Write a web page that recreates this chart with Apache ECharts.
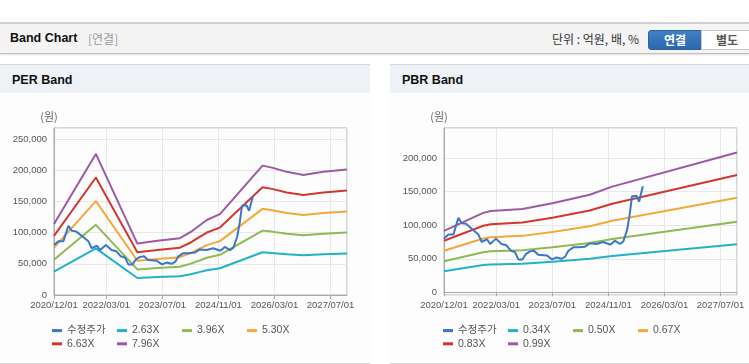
<!DOCTYPE html>
<html>
<head>
<meta charset="utf-8">
<script src="https://cdn.jsdelivr.net/npm/echarts@6/dist/echarts.min.js"></script>
<style>
  html, body { margin:0; padding:0; background:#fff; }
  body { width:749px; height:364px; position:relative; overflow:hidden; font-family:"Liberation Sans", Arial, "Noto Sans CJK KR", sans-serif; }
  #topbar { position:absolute; left:0; top:22px; width:749px; height:29px; background:#f4f4f4;
            border-top:2px solid #cfcfcf; border-bottom:1px solid #bdbdbd; box-shadow:0 1px 2px rgba(0,0,0,0.12); }
  #title { position:absolute; left:10px; top:7px; font-size:12.5px; font-weight:bold; color:#111; }
  #sub { position:absolute; left:88px; top:7px; font-size:12px; color:#999; font-family:"Noto Sans CJK KR", sans-serif; line-height:15px; }
  #unit { position:absolute; left:552px; top:7px; font-size:12px; color:#333; font-family:"Noto Sans CJK KR", sans-serif; line-height:15px; }
  .btn { position:absolute; top:6px; height:18px; line-height:18px; text-align:center; font-size:12px; font-weight:bold; font-family:"Noto Sans CJK KR", sans-serif; }
  #b1 { left:648px; width:52px; background:linear-gradient(#3f80c8,#2b67ad); color:#fff; border-radius:3px 0 0 3px; border:1px solid #2a62a4; }
  #b2 { left:701px; width:50px; background:#fff; color:#555; border:1px solid #c8c8c8; }
  .panel { position:absolute; top:64px; height:298px; background:#fdfdfd; border-top:1px solid #d7d7d7; border-bottom:1px solid #d7d7d7; }
  .ph { height:28px; background:#eef2f7; font-size:12.5px; font-weight:bold; color:#111; line-height:31px; padding-left:12px; }
  #chart { position:absolute; left:0; top:0; width:749px; height:364px; }
</style>
</head>
<body>
<div id="topbar">
  <div id="title">Band Chart</div>
  <div id="sub">[연결]</div>
  <div id="unit">단위 : 억원, 배, %</div>
  <div class="btn" id="b1">연결</div>
  <div class="btn" id="b2">별도</div>
</div>
<div class="panel" style="left:0;width:370px;"><div class="ph">PER Band</div></div>
<div class="panel" style="left:390px;width:359px;"><div class="ph">PBR Band</div></div>
<div id="chart"></div>
<script>
// x values are month offsets (15 months between tick labels)
const xTickLabels = ['2020/12/01','2022/03/01','2023/07/01','2024/11/01','2026/03/01','2027/07/01'];

const priceMonths = [1.0, 2.2, 3.5, 4.85, 5.75, 6.9, 8.8, 10.2, 11.1, 12.5, 13.35, 14.9, 16.4, 17.7, 18.9, 20.0, 20.9, 22.0, 22.9, 24.0, 25.1, 26.2, 28.5, 29.9, 31.1, 32.5, 33.4, 34.3, 35.6, 37.0, 38.7, 40.0, 41.8, 43.6, 45.5, 46.7, 48.1, 49.0, 50.0, 50.7, 51.3, 52.5, 53.2, 54.2];
const priceValues = [80000, 86000, 86000, 111000, 103000, 102000, 93000, 86000, 75000, 79000, 72000, 80000, 72000, 70000, 62000, 60000, 49000, 49000, 57000, 61000, 62000, 56000, 55000, 49000, 52000, 50000, 53000, 62000, 67000, 67000, 68000, 73000, 72000, 75000, 71000, 77000, 72000, 76000, 93000, 116000, 143000, 144000, 135000, 158000];

const perNames = ['2.63X','3.96X','5.30X','6.63X','7.96X'];
const perMonths = [1, 12.2, 23.3, 28.7, 34.7, 37.6, 40.1, 41.9, 45.4, 56.8, 59.3, 63.3, 67.7, 73.1, 79.4];
const per263 = [37600, 74700, 27200, 28700, 30100, 33400, 37100, 39700, 42900, 68500, 67500, 65200, 63600, 65200, 66400];
const per396 = [56600, 112500, 41000, 43200, 45300, 50300, 55800, 59800, 64500, 103200, 101600, 98200, 95700, 98200, 100000];
const per530 = [75800, 150500, 54900, 57800, 60700, 67300, 74700, 80000, 86400, 138100, 135900, 131400, 128100, 131400, 133800];
const per663 = [94800, 188300, 68600, 72300, 75900, 84200, 93500, 100100, 108100, 172700, 170100, 164400, 160200, 164400, 167400];
const per796 = [113800, 226100, 82400, 86800, 91100, 101100, 112200, 120200, 129700, 207400, 204200, 197400, 192400, 197400, 201000];

const pbrNames = ['0.34X','0.50X','0.67X','0.83X','0.99X'];
const pbrMonths = [1, 11.5, 13.5, 22, 30, 40, 46, 79.4];
const pbr034 = [31450, 40630, 41580, 42670, 45560, 49910, 54060, 71570];
const pbr050 = [46250, 59750, 61150, 62750, 67000, 73400, 79500, 105250];
const pbr067 = [61980, 80070, 81940, 84090, 89780, 98360, 106530, 141040];
const pbr083 = [76780, 99190, 101510, 104170, 111220, 121840, 131970, 174720];
const pbr099 = [91580, 118310, 121080, 124250, 132660, 145330, 157410, 208400];

const priceName = '수정주가';
const colors = ['#3a77c6', '#1fb3c6', '#8fba52', '#f5a83a', '#d2372e', '#9b5aa2'];

function pairs(xs, ys) { return xs.map((x, i) => [x, ys[i]]); }

const chart = echarts.init(document.getElementById('chart'), null, {renderer: 'canvas'});
const fontFam = '"Liberation Sans", Arial, "Noto Sans CJK KR", sans-serif';

function xAxisDef(idx) {
  return {
    gridIndex: idx, type: 'value', min: 1, max: 79.4, minInterval: 15, maxInterval: 15,
    axisLine: {show: true, lineStyle: {color: '#aaaaaa'}},
    axisTick: {show: true, length: 4, lineStyle: {color: '#aaaaaa'}},
    axisLabel: {color: '#555', fontSize: 9.5, fontFamily: fontFam, margin: 6, showMaxLabel: false, showMinLabel: true,
      formatter: v => xTickLabels[Math.round(v / 15)] || ''},
    splitLine: {show: true, lineStyle: {color: '#e8e8e8'}}
  };
}
function yAxisDef(idx, min, max) {
  return {
    gridIndex: idx, type: 'value', min: min, max: max, minInterval: 50000, maxInterval: 50000,
    name: '(원)', nameLocation: 'end', nameGap: 6,
    nameTextStyle: {color: '#666', fontSize: 11, fontFamily: '"Noto Sans CJK KR", sans-serif', padding: [0, 10, 0, 0]},
    axisLine: {show: true, lineStyle: {color: '#aaaaaa'}},
    axisTick: {show: false},
    axisLabel: {color: '#555', fontSize: 9.5, fontFamily: fontFam, margin: 7, showMaxLabel: false, showMinLabel: min === 0,
      formatter: v => Number(v).toLocaleString('en-US')},
    splitLine: {show: true, lineStyle: {color: '#e8e8e8'}}
  };
}
function lineSeries(name, data, color, gi, z) {
  return {name: name, type: 'line', xAxisIndex: gi, yAxisIndex: gi, data: data, showSymbol: false, symbol: 'none',
    lineStyle: {width: 2, color: color}, itemStyle: {color: color}, z: z || 2, animation: false};
}
function legendDef(left, names) {
  return {
    left: left, top: 324, width: 262, padding: 0, itemGap: 0, itemWidth: 10, itemHeight: 3, icon: 'rect', selectedMode: false,
    orient: 'horizontal', data: [priceName].concat(names),
    textStyle: {color: '#555', fontSize: 10.5, fontFamily: fontFam, width: 50, lineHeight: 13.2}
  };
}

const perBands = [per263, per396, per530, per663, per796];
const pbrBands = [pbr034, pbr050, pbr067, pbr083, pbr099];
const series = [];
perBands.forEach((b, i) => series.push(lineSeries(perNames[i], pairs(perMonths, b), colors[i + 1], 0)));
series.push(lineSeries(priceName, pairs(priceMonths, priceValues), colors[0], 0, 3));
pbrBands.forEach((b, i) => series.push(lineSeries(pbrNames[i], pairs(pbrMonths, b), colors[i + 1], 1)));
series.push(lineSeries(priceName, pairs(priceMonths, priceValues), colors[0], 1, 3));

chart.setOption({
  animation: false,
  grid: [
    {left: 54, top: 128, width: 293, height: 167, show: true, borderColor: '#b0b0b0', borderWidth: 1, backgroundColor: 'transparent'},
    {left: 444, top: 128, width: 293, height: 167, show: true, borderColor: '#b0b0b0', borderWidth: 1, backgroundColor: 'transparent'}
  ],
  xAxis: [xAxisDef(0), xAxisDef(1)],
  yAxis: [yAxisDef(0, 0, 267700), yAxisDef(1, -4000, 244800)],
  legend: [legendDef(52, perNames), legendDef(443, pbrNames)],
  series: series
});
</script>
</body>
</html>
